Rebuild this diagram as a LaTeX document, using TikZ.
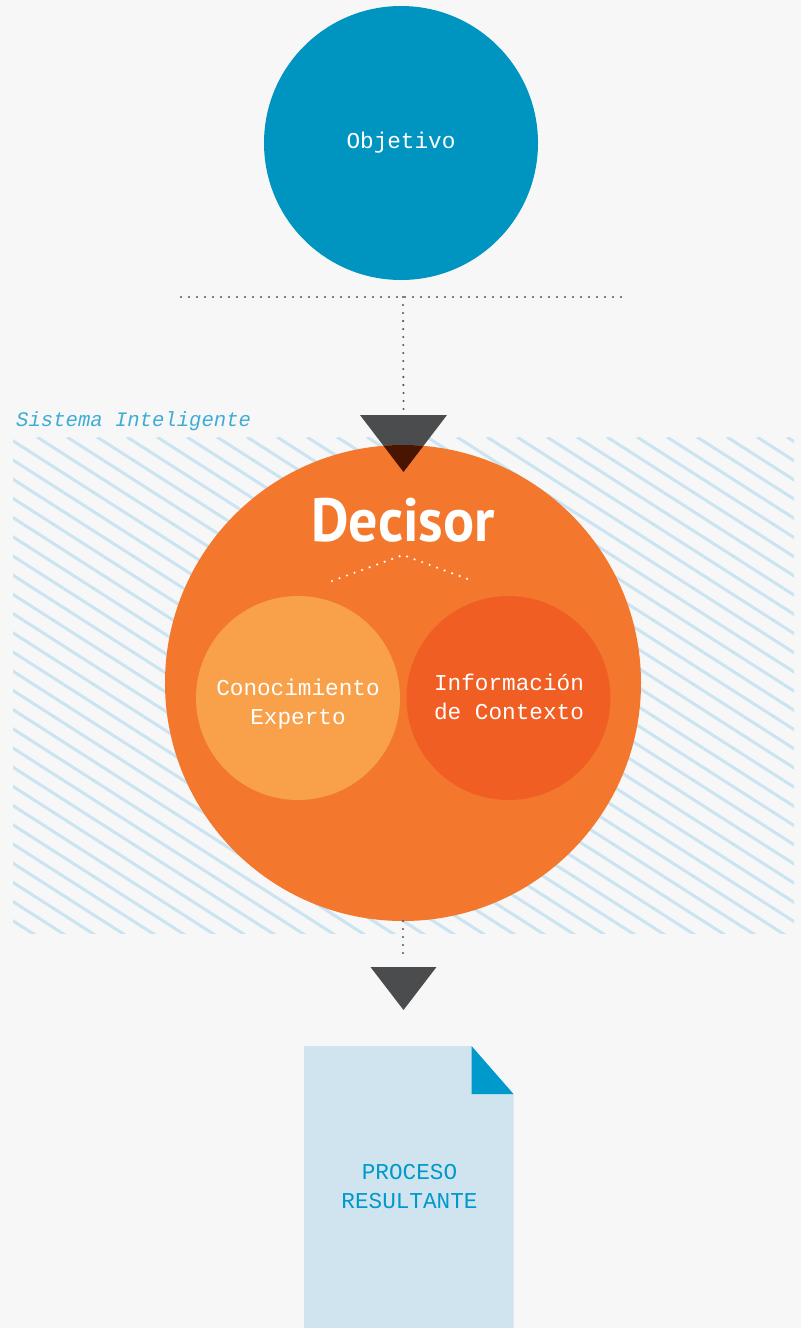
\documentclass[tikz,border=0pt]{standalone}
\usepackage{fontspec}
\setmainfont{Liberation Sans}
\newfontfamily\monofont{Liberation Mono}
\newfontfamily\titlefont{PT Sans}
\definecolor{bgc}{RGB}{247,247,247}
\definecolor{objblue}{RGB}{0,148,192}
\definecolor{decorange}{RGB}{243,120,45}
\definecolor{conorange}{RGB}{248,161,74}
\definecolor{infred}{RGB}{241,94,36}
\definecolor{darkgray}{RGB}{75,76,78}
\definecolor{darkbrown}{RGB}{74,21,0}
\definecolor{hatchblue}{RGB}{203,228,242}
\definecolor{sysblue}{RGB}{62,173,214}
\definecolor{docblue}{RGB}{208,228,239}
\definecolor{foldblue}{RGB}{0,153,204}
\definecolor{dotgray}{RGB}{85,85,85}
\tikzset{
  dotline/.style={draw=dotgray, line width=2.3pt, line cap=round, dash pattern=on 0pt off 8pt},
  whitedots/.style={draw=white, line width=2.4pt, line cap=round, dash pattern=on 0pt off 8pt},
  hatch/.style={draw=hatchblue, line width=3pt},
  bigcircle/.style={circle, inner sep=0pt, text=white, align=center},
  monotext/.style={font=\monofont\fontsize{22.7}{29}\selectfont, text=white, align=center}
}
\begin{document}
\begin{tikzpicture}[x=1pt,y=-1pt]
\fill[bgc] (0,0) rectangle (801,1328);
\useasboundingbox (0,0) rectangle (801,1328);
% hatch area
\begin{scope}
  \clip (13,437) rectangle (794,933);
  \foreach \k in {-27,...,27} {
    \draw[hatch] (7+30*\k,437) -- ++(800,512);
  }
\end{scope}
% system label
\node[anchor=base west, inner sep=0pt, text=sysblue, font=\monofont\itshape\fontsize{20.6}{24}\selectfont] (sys) at (16,426) {Sistema Inteligente};
% Objetivo
\node[bigcircle, fill=objblue, minimum size=274pt] (obj) at (401,143) {};
\node[monotext] (objt) at (obj.center) {Objetivo};
% dotted horizontal line
\coordinate (hl) at (181,297);
\coordinate (hr) at (621,297);
\coordinate (vtop) at (403,297);
\draw[dotline] (hl) -- (hr);
% first triangle
\coordinate (t1a) at (360,415);
\coordinate (t1b) at (447,415);
\coordinate (t1c) at (403.5,472);
\coordinate (t1top) at (403.5,410);
\draw[dotline] (vtop) -- (t1top);
\fill[darkgray] (t1a) -- (t1b) -- (t1c) -- cycle;
% Decisor circle
\node[bigcircle, fill=decorange, minimum size=476pt] (dec) at (403,683) {};
\begin{scope}
  \clip (dec.center) circle (238pt);
  \fill[darkbrown] (t1a) -- (t1b) -- (t1c) -- cycle;
\end{scope}
\node[anchor=base, inner sep=0pt, text=white, font=\titlefont\bfseries\fontsize{61}{61}\selectfont] (dect) at (403,541) {\scalebox{0.95}[1]{Decisor}};
% chevron
\coordinate (chl) at (332,581);
\coordinate (chm) at (403,555);
\coordinate (chr) at (473,581);
\draw[whitedots] (chl) -- (chm) -- (chr);
% sub circles
\node[bigcircle, fill=conorange, minimum size=204pt] (con) at (298,698) {};
\node[monotext] (cont) at (298,704) {Conocimiento\\Experto};
\node[bigcircle, fill=infred, minimum size=204pt] (inf) at (508.5,698) {};
\node[monotext] (inft) at (509,697) {Información\\de Contexto};
% bottom connector
\coordinate (b1) at (403,921);
\coordinate (b2) at (403,954);
\draw[dotline] (b1) -- (b2);
\coordinate (t2a) at (370.5,967);
\coordinate (t2b) at (436.5,967);
\coordinate (t2c) at (403.5,1010);
\fill[darkgray] (t2a) -- (t2b) -- (t2c) -- cycle;
% document
\fill[docblue] (304,1046) -- (471.5,1046) -- (513.5,1094) -- (513.5,1328) -- (304,1328) -- cycle;
\fill[foldblue] (471.5,1046) -- (513.5,1094) -- (471.5,1094) -- cycle;
\node[monotext, text=foldblue] (doc) at (409.5,1187) {PROCESO\\RESULTANTE};
\end{tikzpicture}
\end{document}
